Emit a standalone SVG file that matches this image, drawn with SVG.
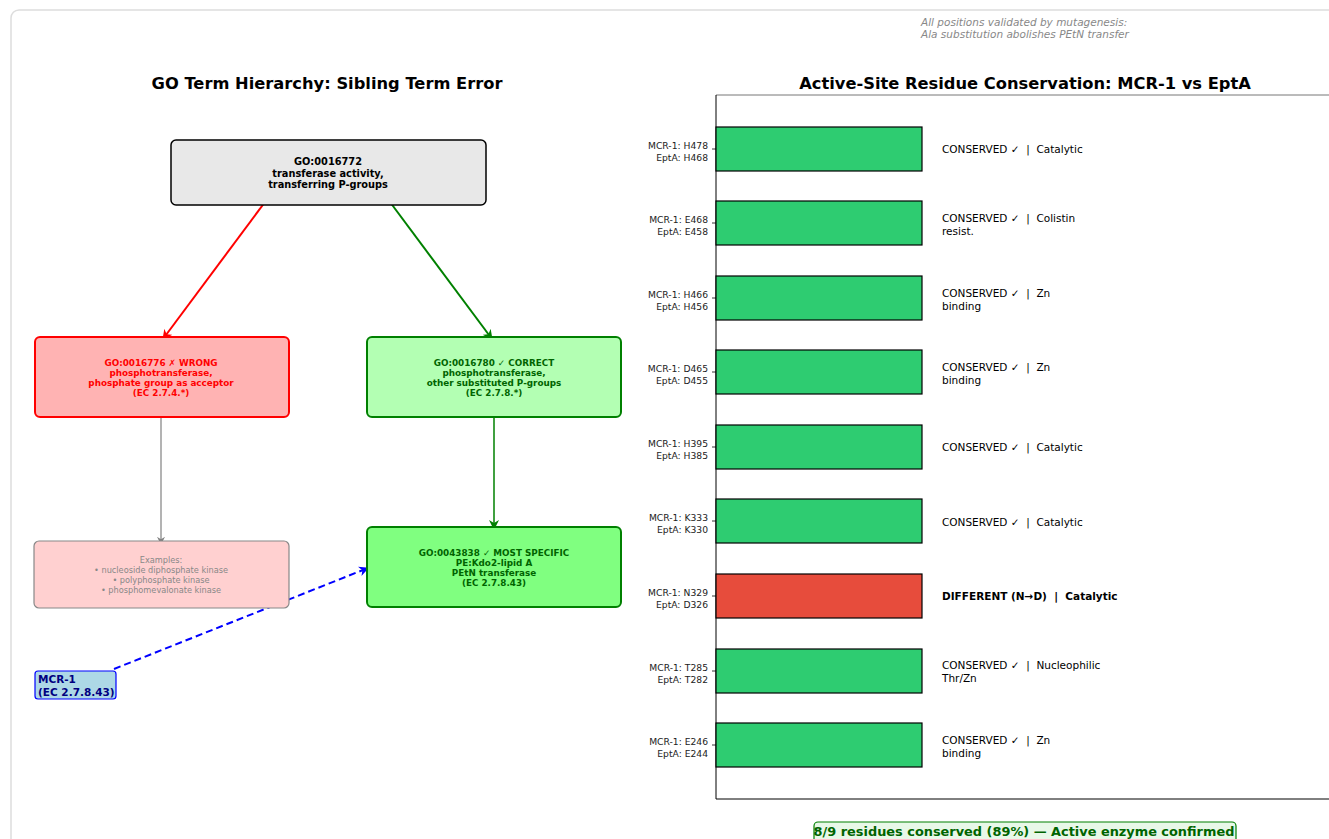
<svg xmlns="http://www.w3.org/2000/svg" width="1329" height="839" viewBox="0 0 1329 839">
<defs>
<style>
text{font-family:"DejaVu Sans","Liberation Sans",sans-serif}
.title{font-size:16.3px;font-weight:bold;fill:#000;text-anchor:middle}
.nt{font-size:8.8px;font-weight:bold;text-anchor:middle}
.yl{font-size:9.2px;fill:#222;text-anchor:end}
.bl{font-size:10.5px;fill:#000}
.bar{fill:#2ecc71;stroke:#000;stroke-width:1.2}
.tick{stroke:#000;stroke-width:0.8}
</style>
<marker id="ar" viewBox="0 0 10 10" refX="9" refY="5" markerWidth="10" markerHeight="10" markerUnits="userSpaceOnUse" orient="auto"><path d="M0,0 L10,5 L0,10 L3,5 z" fill="red"/></marker>
<marker id="ag" viewBox="0 0 10 10" refX="9" refY="5" markerWidth="10" markerHeight="10" markerUnits="userSpaceOnUse" orient="auto"><path d="M0,0 L10,5 L0,10 L3,5 z" fill="green"/></marker>
<marker id="agr" viewBox="0 0 10 10" refX="9" refY="5" markerWidth="8" markerHeight="8" markerUnits="userSpaceOnUse" orient="auto"><path d="M0,0 L10,5 L0,10 L3,5 z" fill="gray"/></marker>
<marker id="ab" viewBox="0 0 10 10" refX="9" refY="5" markerWidth="10" markerHeight="10" markerUnits="userSpaceOnUse" orient="auto"><path d="M0,0 L10,5 L0,10 L3,5 z" fill="blue"/></marker>
</defs>
<rect x="0" y="0" width="1329" height="839" fill="#fff"/>
<rect x="11" y="10" width="1340" height="850" rx="8" fill="#fff" stroke="#dddddd" stroke-width="1.5"/>

<text x="921" y="26" font-size="10.5" font-style="italic" fill="#888">All positions validated by mutagenesis:</text>
<text x="921" y="38" font-size="10.5" font-style="italic" fill="#888">Ala substitution abolishes PEtN transfer</text>

<text class="title" x="327" y="89">GO Term Hierarchy: Sibling Term Error</text>
<text class="title" x="1025" y="89">Active-Site Residue Conservation: MCR-1 vs EptA</text>

<g id="connectors" fill="none">
<line x1="265" y1="202" x2="163" y2="339" stroke="red" stroke-width="2" marker-end="url(#ar)"/>
<line x1="390" y1="202" x2="492" y2="339" stroke="green" stroke-width="2" marker-end="url(#ag)"/>
<line x1="161" y1="414" x2="161" y2="544" stroke="gray" stroke-width="1.2" marker-end="url(#agr)"/>
<line x1="494" y1="414" x2="494" y2="529" stroke="green" stroke-width="1.5" marker-end="url(#ag)"/>
<line x1="114" y1="669" x2="368" y2="568" stroke="blue" stroke-width="2" stroke-dasharray="7,4" marker-end="url(#ab)"/>
</g>

<g id="node-root">
<rect x="171" y="140" width="315" height="65" rx="5" fill="#e8e8e8" stroke="#000" stroke-width="1.5"/>
<text class="nt" x="328" y="165" fill="#000" style="font-size:9.8px"><tspan x="328">GO:0016772</tspan><tspan x="328" dy="11.5">transferase activity,</tspan><tspan x="328" dy="11.5">transferring P-groups</tspan></text>
</g>
<g id="node-wrong">
<rect x="35" y="337" width="254" height="80" rx="5" fill="#ffb3b3" stroke="red" stroke-width="2"/>
<text class="nt" x="161" y="366" fill="red"><tspan x="161">GO:0016776 ✗ WRONG</tspan><tspan x="161" dy="10">phosphotransferase,</tspan><tspan x="161" dy="10">phosphate group as acceptor</tspan><tspan x="161" dy="10">(EC 2.7.4.*)</tspan></text>
</g>
<g id="node-correct">
<rect x="367" y="337" width="254" height="80" rx="5" fill="#b3ffb3" stroke="green" stroke-width="2"/>
<text class="nt" x="494" y="366" fill="#006400"><tspan x="494">GO:0016780 ✓ CORRECT</tspan><tspan x="494" dy="10">phosphotransferase,</tspan><tspan x="494" dy="10">other substituted P-groups</tspan><tspan x="494" dy="10">(EC 2.7.8.*)</tspan></text>
</g>
<g id="node-examples">
<rect x="34" y="541" width="255" height="67" rx="5" fill="#ffd0d0" stroke="#888" stroke-width="1.2"/>
<text x="161" y="563" font-size="8.2" fill="#888" text-anchor="middle"><tspan x="161">Examples:</tspan><tspan x="161" dy="10">• nucleoside diphosphate kinase</tspan><tspan x="161" dy="10">• polyphosphate kinase</tspan><tspan x="161" dy="10">• phosphomevalonate kinase</tspan></text>
</g>
<g id="node-specific">
<rect x="367" y="527" width="254" height="80" rx="5" fill="#80ff80" stroke="green" stroke-width="2"/>
<text class="nt" x="494" y="556" fill="#006400"><tspan x="494">GO:0043838 ✓ MOST SPECIFIC</tspan><tspan x="494" dy="10">PE:Kdo2-lipid A</tspan><tspan x="494" dy="10">PEtN transferase</tspan><tspan x="494" dy="10">(EC 2.7.8.43)</tspan></text>
</g>
<g id="node-mcr1">
<rect x="35" y="671" width="81" height="28" rx="3" fill="#add8e6" stroke="blue" stroke-width="1.2"/>
<text x="38" y="683" font-size="10.5" font-weight="bold" fill="#000080"><tspan x="38">MCR-1</tspan><tspan x="38" dy="12.5">(EC 2.7.8.43)</tspan></text>
</g>

<g id="chart">
<line x1="716" y1="95" x2="1340" y2="95" stroke="#777" stroke-width="1"/>
<line x1="716" y1="799" x2="1340" y2="799" stroke="#000" stroke-width="1"/>
<line x1="716" y1="95" x2="716" y2="799" stroke="#000" stroke-width="1"/>

<rect class="bar" x="716" y="127" width="206" height="44"/>
<rect class="bar" x="716" y="201" width="206" height="44"/>
<rect class="bar" x="716" y="276" width="206" height="44"/>
<rect class="bar" x="716" y="350" width="206" height="44"/>
<rect class="bar" x="716" y="425" width="206" height="44"/>
<rect class="bar" x="716" y="499" width="206" height="44"/>
<rect x="716" y="574" width="206" height="44" fill="#e74c3c" stroke="#000" stroke-width="1.2"/>
<rect class="bar" x="716" y="649" width="206" height="44"/>
<rect class="bar" x="716" y="723" width="206" height="44"/>

<g class="tick">
<line x1="712" y1="149" x2="716" y2="149"/><line x1="712" y1="223" x2="716" y2="223"/><line x1="712" y1="298" x2="716" y2="298"/><line x1="712" y1="372" x2="716" y2="372"/><line x1="712" y1="447" x2="716" y2="447"/><line x1="712" y1="521" x2="716" y2="521"/><line x1="712" y1="596" x2="716" y2="596"/><line x1="712" y1="671" x2="716" y2="671"/><line x1="712" y1="745" x2="716" y2="745"/>
</g>

<text class="yl" y="149"><tspan x="708" dy="0">MCR-1: H478</tspan><tspan x="708" dy="12">EptA: H468</tspan></text>
<text class="yl" y="223"><tspan x="708" dy="0">MCR-1: E468</tspan><tspan x="708" dy="12">EptA: E458</tspan></text>
<text class="yl" y="298"><tspan x="708" dy="0">MCR-1: H466</tspan><tspan x="708" dy="12">EptA: H456</tspan></text>
<text class="yl" y="372"><tspan x="708" dy="0">MCR-1: D465</tspan><tspan x="708" dy="12">EptA: D455</tspan></text>
<text class="yl" y="447"><tspan x="708" dy="0">MCR-1: H395</tspan><tspan x="708" dy="12">EptA: H385</tspan></text>
<text class="yl" y="521"><tspan x="708" dy="0">MCR-1: K333</tspan><tspan x="708" dy="12">EptA: K330</tspan></text>
<text class="yl" y="596"><tspan x="708" dy="0">MCR-1: N329</tspan><tspan x="708" dy="12">EptA: D326</tspan></text>
<text class="yl" y="671"><tspan x="708" dy="0">MCR-1: T285</tspan><tspan x="708" dy="12">EptA: T282</tspan></text>
<text class="yl" y="745"><tspan x="708" dy="0">MCR-1: E246</tspan><tspan x="708" dy="12">EptA: E244</tspan></text>

<text class="bl" x="942" y="153" xml:space="preserve">CONSERVED ✓  |  Catalytic</text>
<text class="bl" x="942" y="222"><tspan x="942" xml:space="preserve">CONSERVED ✓  |  Colistin</tspan><tspan x="942" dy="12.5">resist.</tspan></text>
<text class="bl" x="942" y="297"><tspan x="942" xml:space="preserve">CONSERVED ✓  |  Zn</tspan><tspan x="942" dy="12.5">binding</tspan></text>
<text class="bl" x="942" y="371"><tspan x="942" xml:space="preserve">CONSERVED ✓  |  Zn</tspan><tspan x="942" dy="12.5">binding</tspan></text>
<text class="bl" x="942" y="451" xml:space="preserve">CONSERVED ✓  |  Catalytic</text>
<text class="bl" x="942" y="526" xml:space="preserve">CONSERVED ✓  |  Catalytic</text>
<text class="bl" x="942" y="600" font-weight="bold" xml:space="preserve">DIFFERENT (N→D)  |  Catalytic</text>
<text class="bl" x="942" y="669"><tspan x="942" xml:space="preserve">CONSERVED ✓  |  Nucleophilic</tspan><tspan x="942" dy="12.5">Thr/Zn</tspan></text>
<text class="bl" x="942" y="744"><tspan x="942" xml:space="preserve">CONSERVED ✓  |  Zn</tspan><tspan x="942" dy="12.5">binding</tspan></text>
</g>

<g id="summary">
<rect x="814" y="822" width="422" height="25" rx="4" fill="#e8f8e8" stroke="green" stroke-width="1.2"/>
<text x="1024" y="836" font-size="12.9" font-weight="bold" fill="#006400" text-anchor="middle">8/9 residues conserved (89%) — Active enzyme confirmed</text>
</g>
</svg>
